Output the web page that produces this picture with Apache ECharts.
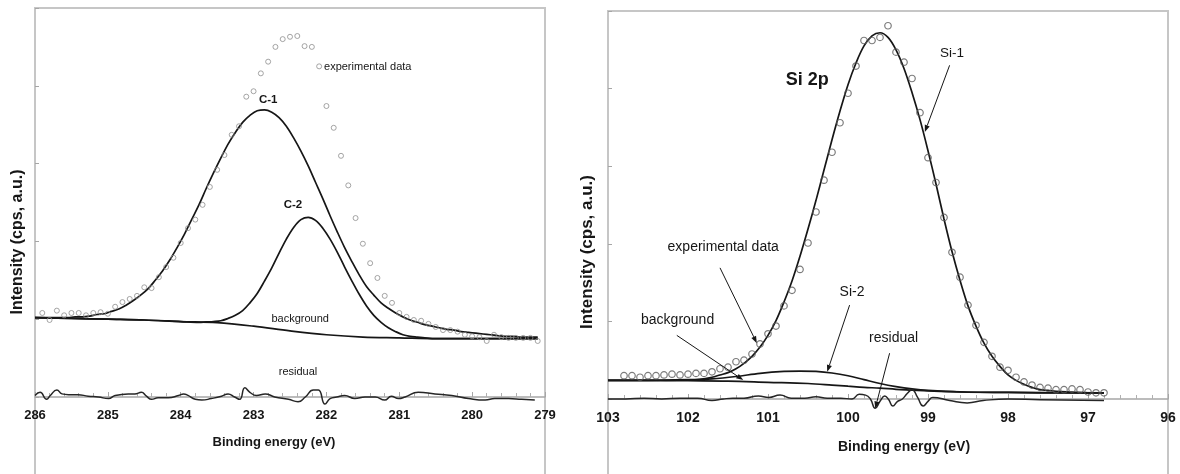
<!DOCTYPE html>
<html><head><meta charset="utf-8">
<script src="https://cdn.jsdelivr.net/npm/echarts@6/dist/echarts.min.js"></script>
<style>html,body{margin:0;padding:0;background:#fff}#chart{width:1180px;height:474px}</style>
</head><body><div id="chart"></div>
<script>
// ---------------- Left panel: C 1s ----------------
const cExperimental = [[285.9,1.08],[285.8,0.99],[285.7,1.11],[285.6,1.05],[285.5,1.08],[285.4,1.08],[285.3,1.05],[285.2,1.08],[285.1,1.09],[285.0,1.07],[284.9,1.16],[284.8,1.22],[284.7,1.26],[284.6,1.30],[284.5,1.41],[284.4,1.40],[284.3,1.54],[284.2,1.67],[284.1,1.79],[284.0,1.98],[283.9,2.17],[283.8,2.28],[283.7,2.47],[283.6,2.70],[283.5,2.92],[283.4,3.11],[283.3,3.37],[283.2,3.48],[283.1,3.86],[283.0,3.93],[282.9,4.16],[282.8,4.31],[282.7,4.50],[282.6,4.60],[282.5,4.63],[282.4,4.64],[282.3,4.51],[282.2,4.50],[282.1,4.25],[282.0,3.74],[281.9,3.46],[281.8,3.10],[281.7,2.72],[281.6,2.30],[281.5,1.97],[281.4,1.72],[281.3,1.53],[281.2,1.30],[281.1,1.21],[281.0,1.08],[280.9,1.03],[280.8,0.99],[280.7,0.98],[280.6,0.94],[280.5,0.90],[280.4,0.86],[280.3,0.86],[280.2,0.84],[280.1,0.80],[280.0,0.78],[279.9,0.77],[279.8,0.72],[279.7,0.80],[279.6,0.77],[279.5,0.76],[279.4,0.76],[279.3,0.76],[279.2,0.76],[279.1,0.72]];
const cPeak1 = [[286.0,1.02],[285.95,1.02],[285.85,1.02],[285.75,1.02],[285.65,1.02],[285.55,1.02],[285.45,1.03],[285.35,1.03],[285.25,1.04],[285.15,1.06],[285.05,1.07],[284.95,1.10],[284.85,1.13],[284.75,1.18],[284.65,1.24],[284.55,1.31],[284.45,1.39],[284.35,1.50],[284.25,1.62],[284.15,1.76],[284.05,1.92],[283.95,2.09],[283.85,2.28],[283.75,2.47],[283.65,2.68],[283.55,2.88],[283.45,3.07],[283.35,3.25],[283.25,3.40],[283.15,3.53],[283.05,3.62],[282.95,3.68],[282.85,3.69],[282.75,3.66],[282.65,3.59],[282.55,3.48],[282.45,3.33],[282.35,3.16],[282.25,2.97],[282.15,2.76],[282.05,2.55],[281.95,2.33],[281.85,2.12],[281.75,1.92],[281.65,1.74],[281.55,1.57],[281.45,1.42],[281.35,1.31],[281.25,1.21],[281.15,1.14],[281.05,1.08],[280.95,1.03],[280.85,0.99],[280.75,0.96],[280.65,0.93],[280.55,0.91],[280.45,0.89],[280.35,0.87],[280.25,0.86],[280.15,0.84],[280.05,0.83],[279.95,0.82],[279.85,0.81],[279.75,0.80],[279.65,0.79],[279.55,0.78],[279.45,0.78],[279.35,0.77],[279.25,0.77],[279.1,0.77]];
const cPeak2 = [[286.0,1.02],[285.5,1.01],[285.0,1.00],[284.5,0.99],[284.0,0.97],[283.75,0.96],[283.65,0.965],[283.55,0.97],[283.45,0.98],[283.35,1.01],[283.25,1.05],[283.15,1.11],[283.05,1.21],[282.95,1.33],[282.85,1.49],[282.75,1.66],[282.65,1.85],[282.55,2.03],[282.45,2.18],[282.35,2.28],[282.25,2.31],[282.15,2.27],[282.05,2.17],[281.95,2.03],[281.85,1.86],[281.75,1.67],[281.65,1.49],[281.55,1.32],[281.45,1.17],[281.35,1.05],[281.25,0.96],[281.15,0.89],[281.05,0.84],[280.95,0.80],[280.85,0.78],[280.75,0.77],[280.65,0.76],[280.5,0.75],[280.0,0.75],[279.5,0.75],[279.1,0.75]];
const cBackground = [[286.0,1.02],[285.5,1.01],[285.0,1.00],[284.5,0.99],[284.0,0.97],[283.5,0.955],[283.0,0.91],[282.5,0.85],[282.0,0.80],[281.5,0.77],[281.0,0.76],[280.5,0.75],[280.0,0.75],[279.1,0.75]];
const cResidual = [[286.0,0.02],[285.93,0.06],[285.84,-0.03],[285.79,0.02],[285.70,0.09],[285.63,0.04],[285.54,0.03],[285.41,0.03],[285.27,0.01],[285.13,0],[284.99,-0.02],[284.90,0.02],[284.72,0.04],[284.63,0.04],[284.54,0.06],[284.47,0.01],[284.40,-0.03],[284.31,-0.01],[284.17,-0.01],[284.03,0.02],[283.96,0.04],[283.90,0.02],[283.80,-0.03],[283.71,-0.04],[283.58,-0.02],[283.44,0.01],[283.35,0.04],[283.26,0],[283.19,-0.03],[283.12,0.12],[283.05,0.06],[282.96,0.02],[282.84,0.04],[282.71,0],[282.52,-0.03],[282.39,-0.06],[282.29,0],[282.18,0.09],[282.11,0.09],[282.02,-0.09],[281.95,-0.02],[281.86,0],[281.75,0.02],[281.61,-0.02],[281.47,0],[281.33,0],[281.20,-0.04],[281.11,0.01],[281.01,-0.02],[280.92,0],[280.74,0.06],[280.51,0.04],[280.28,0.02],[280.05,-0.02],[279.82,-0.04],[279.69,-0.02],[279.50,-0.02],[279.32,-0.03],[279.14,-0.04]];
const cTicks = [286, 285, 284, 283, 282, 281, 280, 279];

// ---------------- Right panel: Si 2p ----------------
const siExperimental = [[102.8,0.30],[102.7,0.30],[102.6,0.28],[102.5,0.30],[102.4,0.30],[102.3,0.31],[102.2,0.32],[102.1,0.31],[102.0,0.32],[101.9,0.33],[101.8,0.33],[101.7,0.35],[101.6,0.39],[101.5,0.41],[101.4,0.48],[101.3,0.50],[101.2,0.58],[101.1,0.71],[101.0,0.84],[100.9,0.94],[100.8,1.20],[100.7,1.40],[100.6,1.67],[100.5,2.01],[100.4,2.41],[100.3,2.82],[100.2,3.18],[100.1,3.56],[100.0,3.94],[99.9,4.29],[99.8,4.62],[99.7,4.62],[99.6,4.66],[99.5,4.81],[99.4,4.47],[99.3,4.34],[99.2,4.13],[99.1,3.69],[99.0,3.11],[98.9,2.79],[98.8,2.34],[98.7,1.89],[98.6,1.57],[98.5,1.21],[98.4,0.95],[98.3,0.73],[98.2,0.55],[98.1,0.41],[98.0,0.37],[97.9,0.28],[97.8,0.22],[97.7,0.18],[97.6,0.15],[97.5,0.14],[97.4,0.12],[97.3,0.12],[97.2,0.13],[97.1,0.12],[97.0,0.09],[96.9,0.08],[96.8,0.08]];
const siPeak1 = [[103.0,0.24],[102.5,0.24],[102.0,0.25],[101.9,0.25],[101.8,0.26],[101.7,0.28],[101.6,0.31],[101.5,0.34],[101.4,0.39],[101.3,0.46],[101.2,0.55],[101.1,0.67],[101.0,0.82],[100.9,1.01],[100.8,1.25],[100.7,1.52],[100.6,1.84],[100.5,2.19],[100.4,2.56],[100.3,2.95],[100.2,3.34],[100.1,3.71],[100.0,4.05],[99.9,4.33],[99.8,4.55],[99.7,4.68],[99.6,4.72],[99.5,4.66],[99.4,4.50],[99.3,4.26],[99.2,3.95],[99.1,3.60],[99.0,3.20],[98.9,2.77],[98.8,2.32],[98.7,1.90],[98.6,1.53],[98.5,1.20],[98.4,0.94],[98.3,0.72],[98.2,0.55],[98.1,0.42],[98.0,0.31],[97.9,0.24],[97.8,0.19],[97.7,0.15],[97.6,0.12],[97.5,0.11],[97.4,0.10],[97.2,0.09],[97.0,0.08],[96.8,0.08]];
const siPeak2 = [[103.0,0.24],[102.5,0.24],[102.0,0.245],[101.7,0.26],[101.4,0.29],[101.1,0.33],[100.8,0.355],[100.6,0.36],[100.4,0.355],[100.2,0.335],[100.0,0.30],[99.8,0.25],[99.6,0.20],[99.4,0.16],[99.2,0.13],[99.0,0.11],[98.6,0.09],[98.0,0.085],[96.8,0.08]];
const siBackground = [[103.0,0.24],[102.5,0.24],[102.0,0.235],[101.5,0.23],[101.0,0.215],[100.5,0.20],[100.2,0.18],[100.0,0.165],[99.8,0.15],[99.6,0.14],[99.4,0.125],[99.2,0.115],[99.0,0.105],[98.5,0.09],[98.0,0.085],[97.5,0.08],[96.8,0.08]];
const siResidual = [[103.0,0],[102.78,0],[102.55,0.01],[102.33,0],[102.1,0.01],[101.88,0.01],[101.7,-0.02],[101.56,0],[101.44,0.01],[101.3,0.01],[101.12,0.04],[100.99,0.02],[100.85,0.05],[100.71,0.01],[100.54,0.01],[100.4,0.03],[100.26,0.01],[100.09,0.01],[99.95,0],[99.86,0.06],[99.78,0.05],[99.72,0],[99.66,-0.12],[99.6,-0.03],[99.54,0.04],[99.49,-0.01],[99.44,-0.09],[99.38,-0.03],[99.32,0],[99.26,0.07],[99.2,0.12],[99.13,0.02],[99.06,-0.09],[99.0,-0.03],[98.94,0.02],[98.73,-0.02],[98.51,-0.05],[98.31,-0.02],[98.0,0],[97.6,-0.01],[96.8,-0.02]];
const siTicks = [103, 102, 101, 100, 99, 98, 97, 96];

// annotation arrows (from E, from I, to E, to I), in axis units
const siArrows = [[98.73,4.30,99.04,3.44],[101.60,1.69,101.14,0.72],[102.14,0.82,101.31,0.245],[99.98,1.21,100.26,0.35],[99.48,0.59,99.66,-0.12]];

// ---------------- styling / option ----------------
const FONT = "'Liberation Sans', Arial, Helvetica, sans-serif";
const INK = '#161616';

function curve(data, idx, extra) {
  return Object.assign({
    type: 'line', data: data, xAxisIndex: idx, yAxisIndex: idx,
    showSymbol: false, symbol: 'none', smooth: 0.35, clip: false, silent: true,
    lineStyle: { color: INK, width: 1.7 }, z: 2
  }, extra || {});
}
function dots(data, idx, size, color, bw) {
  return {
    type: 'scatter', data: data, xAxisIndex: idx, yAxisIndex: idx, silent: true,
    symbol: 'circle', symbolSize: size, clip: false,
    itemStyle: { color: 'rgba(0,0,0,0)', borderColor: color, borderWidth: bw }, z: 4
  };
}
function note(text, coord, size, weight, pos) {
  return {
    coord: coord, symbol: 'circle', symbolSize: 1, itemStyle: { color: 'rgba(0,0,0,0)' },
    label: { show: true, formatter: text, position: pos || 'inside', distance: 0,
      color: INK, fontFamily: FONT, fontSize: size, fontWeight: weight || 'normal' }
  };
}
function xAx(idx, min, max, ticks, fs) {
  return {
    gridIndex: idx, type: 'value', min: min, max: max, interval: 1, inverse: true,
    axisLine: { show: true, lineStyle: { color: '#a6a6a6', width: 1.5 } },
    axisTick: { show: true, inside: true, length: 5, lineStyle: { color: '#a6a6a6' } },
    minorTick: { show: true, splitNumber: 5, length: 4, lineStyle: { color: '#b0b0b0' } },
    splitLine: { show: false },
    axisLabel: { show: true, margin: 12, color: INK, fontFamily: FONT, fontSize: fs, fontWeight: 'bold',
      showMinLabel: true, showMaxLabel: true,
      formatter: function (v) { return ticks.indexOf(v) >= 0 ? String(v) : ''; } }
  };
}
function yAx(idx) {
  return {
    gridIndex: idx, type: 'value', min: 0, max: 5, interval: 1,
    axisLine: { show: false },
    axisTick: { show: true, inside: true, length: 4, lineStyle: { color: '#a6a6a6' } },
    axisLabel: { show: false }, splitLine: { show: false }
  };
}
function arrowItem(params, api) {
  const p1 = api.coord([api.value(0), api.value(1)]);
  const p2 = api.coord([api.value(2), api.value(3)]);
  const a = Math.atan2(p2[1] - p1[1], p2[0] - p1[0]);
  const L = 7, W = 2.6;
  const b = [p2[0] - L * Math.cos(a), p2[1] - L * Math.sin(a)];
  const l = [b[0] + W * Math.sin(a), b[1] - W * Math.cos(a)];
  const r = [b[0] - W * Math.sin(a), b[1] + W * Math.cos(a)];
  return { type: 'group', children: [
    { type: 'line', shape: { x1: p1[0], y1: p1[1], x2: b[0], y2: b[1] }, style: { stroke: INK, lineWidth: 1 } },
    { type: 'polygon', shape: { points: [p2, l, r] }, style: { fill: INK } }
  ] };
}

const option = {
  animation: false,
  backgroundColor: '#ffffff',
  grid: [
    { left: 35, top: 8, width: 510, height: 389 },
    { left: 608, top: 11, width: 560, height: 388 }
  ],
  xAxis: [xAx(0, 279, 286, cTicks, 13), xAx(1, 96, 103, siTicks, 14)],
  yAxis: [yAx(0), yAx(1)],
  graphic: [
    { type: 'rect', silent: true, z: -1, shape: { x: 35, y: 8, width: 510, height: 500 },
      style: { fill: 'none', stroke: '#c6c6c6', lineWidth: 2 } },
    { type: 'rect', silent: true, z: -1, shape: { x: 608, y: 11, width: 560, height: 500 },
      style: { fill: 'none', stroke: '#c6c6c6', lineWidth: 2 } },
    { type: 'text', x: 18, y: 242, rotation: Math.PI / 2, silent: true,
      style: { text: 'Intensity (cps, a.u.)', fill: INK, font: 'bold 16px ' + FONT, align: 'center', verticalAlign: 'middle', textAlign: 'center', textVerticalAlign: 'middle' } },
    { type: 'text', x: 587, y: 252, rotation: Math.PI / 2, silent: true,
      style: { text: 'Intensity (cps, a.u.)', fill: INK, font: 'bold 17px ' + FONT, align: 'center', verticalAlign: 'middle', textAlign: 'center', textVerticalAlign: 'middle' } },
    { type: 'text', x: 274, y: 442, silent: true,
      style: { text: 'Binding energy (eV)', fill: INK, font: 'bold 13px ' + FONT, align: 'center', verticalAlign: 'middle', textAlign: 'center', textVerticalAlign: 'middle' } },
    { type: 'text', x: 904, y: 447, silent: true,
      style: { text: 'Binding energy (eV)', fill: INK, font: 'bold 14px ' + FONT, align: 'center', verticalAlign: 'middle', textAlign: 'center', textVerticalAlign: 'middle' } }
  ],
  series: [
    curve(cBackground, 0, {
      markPoint: { silent: true, animation: false, data: [
        note('experimental data', [282.04, 4.24], 11, 'normal', 'right'),
        note('C-1', [282.80, 3.82], 11.5, 'bold'),
        note('C-2', [282.46, 2.47], 11.5, 'bold'),
        note('background', [282.36, 1.00], 11),
        note('residual', [282.39, 0.32], 11)
      ] }
    }),
    curve(cPeak2, 0),
    curve(cPeak1, 0),
    curve(cResidual, 0, { smooth: 0.5, lineStyle: { color: '#262626', width: 1.5 } }),
    dots(cExperimental, 0, 5, '#8e8e8e', 1),

    curve(siBackground, 1, {
      markPoint: { silent: true, animation: false, data: [
        note('Si 2p', [100.51, 4.11], 18, 'bold'),
        note('Si-1', [98.70, 4.45], 13.5),
        note('experimental data', [101.56, 1.96], 14),
        note('background', [102.13, 1.02], 14),
        note('Si-2', [99.95, 1.38], 14),
        note('residual', [99.43, 0.79], 14)
      ] }
    }),
    curve(siPeak2, 1),
    curve(siPeak1, 1),
    curve(siResidual, 1, { smooth: 0.5, lineStyle: { color: '#262626', width: 1.5 } }),
    dots(siExperimental, 1, 6.5, '#5a5a5a', 1.2),
    { type: 'custom', xAxisIndex: 1, yAxisIndex: 1, data: siArrows, clip: false, silent: true, z: 5,
      encode: { x: [0, 2], y: [1, 3] }, renderItem: arrowItem }
  ]
};

const chart = echarts.init(document.getElementById('chart'), null, { renderer: 'canvas' });
chart.setOption(option);
</script></body></html>
